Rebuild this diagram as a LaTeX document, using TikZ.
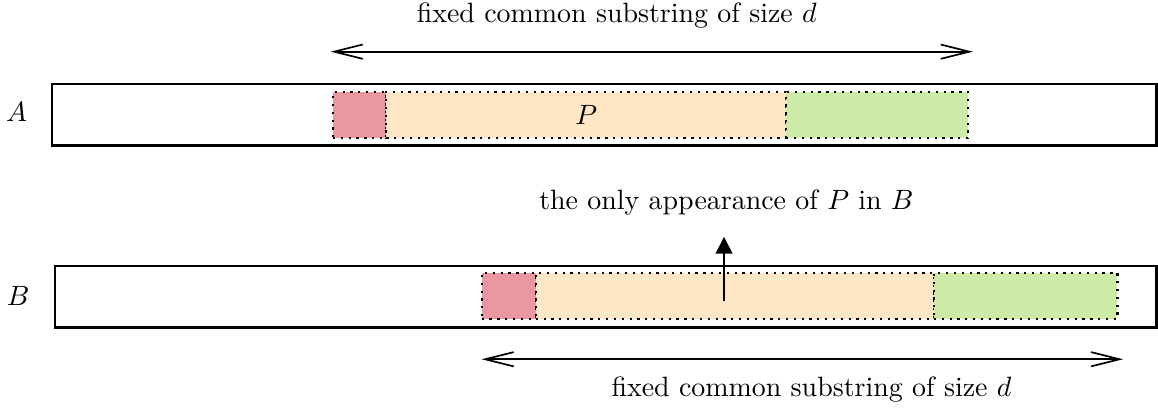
\documentclass[tikz,border=0pt]{standalone}
\usepackage{amsmath}
\usepackage{tikz}
\usetikzlibrary{arrows.meta, positioning}
\definecolor{prefcol}{RGB}{234,151,161}
\definecolor{midcol}{RGB}{255,230,196}
\definecolor{sufcol}{RGB}{205,235,166}

\begin{document}
\begin{tikzpicture}[
  strip/.style={draw, thick, rectangle, minimum height=0.77cm, inner sep=0pt, outer sep=0pt, anchor=north west},
  part/.style={draw, dotted, thick, rectangle, minimum height=0.58cm, inner sep=0pt, outer sep=0pt},
  span/.style={semithick, {Straight Barb[length=3.6mm, width=1.8mm]}-{Straight Barb[length=3.6mm, width=1.8mm]}},
]
\useasboundingbox (0, 0) rectangle (14.57, -5.21);
\node[strip, minimum width=13.9cm] (A) at (0.65, -1.06) {};
\node[strip, minimum width=13.86cm] (B) at (0.69, -3.35) {};
\node[anchor=base] (nA) at (0.21, -1.53) {$A$};
\node[anchor=base] (nB) at (0.23, -3.84) {$B$};
\node[part, fill=prefcol, minimum width=0.67cm, anchor=north west] (rA) at (4.19, -1.16) {};
\node[part, fill=midcol, minimum width=5.03cm, right=0pt of rA] (oA) {$P$};
\node[part, fill=sufcol, minimum width=2.29cm, right=0pt of oA] (gA) {};
\node[part, fill=prefcol, minimum width=0.68cm, anchor=north west] (rB) at (6.06, -3.43) {};
\node[part, fill=midcol, minimum width=5.01cm, right=0pt of rB] (oB) {};
\node[part, fill=sufcol, minimum width=2.31cm, right=0pt of oB] (gB) {};
\coordinate (dAl) at (4.16, -0.65);
\coordinate (dAr) at (12.24, -0.65);
\coordinate (dBl) at (6.06, -4.52);
\coordinate (dBr) at (14.13, -4.52);
\draw[span] (dAl) -- (dAr);
\draw[span] (dBl) -- (dBr);
\node[anchor=base] (topl) at (7.76, -0.277) {fixed common substring of size $d$};
\node[anchor=base] (botl) at (10.21, -4.99) {fixed common substring of size $d$};
\node[anchor=base] (only) at (9.14, -2.64) {the only appearance of $P$ in $B$};
\coordinate (pB) at (9.11, -3.79);
\coordinate (pTop) at (9.11, -2.98);
\draw[semithick, -{Triangle[length=2.1mm, width=2.1mm]}] (pB) -- (pTop);
\end{tikzpicture}
\end{document}
